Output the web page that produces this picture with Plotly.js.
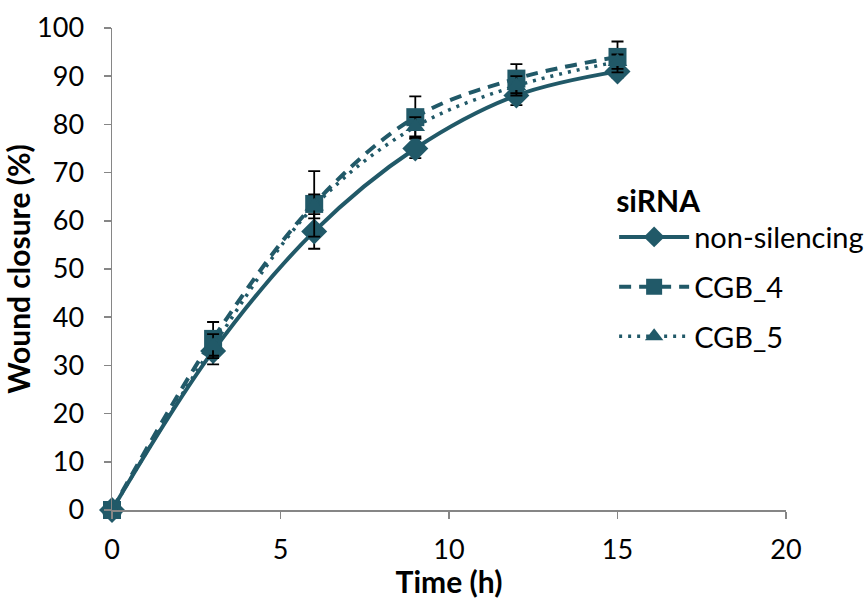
<!DOCTYPE html>
<html>
<head>
<meta charset="utf-8">
<script src="https://cdn.plot.ly/plotly-3.0.1.min.js"></script>
<style>html,body{margin:0;padding:0;background:#fff;}#chart{width:867px;height:599px;}</style>
</head>
<body>
<div id="chart"></div>
<script>
const timeH = [0, 3, 6, 9, 12, 15];
const nonSilencing = [0, 33, 57.8, 75, 86, 91];
const nonSilencingErr = [0, 2.8, 3.6, 2.0, 2.0, 1.3];
const cgb4 = [0, 35.5, 63.5, 81.5, 89.5, 94];
const cgb4Err = [0, 3.5, 6.8, 4.3, 3.0, 3.2];
const cgb5 = [0, 34, 63, 79.5, 88, 93];
const cgb5Err = [0, 2.5, 2.5, 2.0, 2.0, 1.5];
const seriesNames = ['non-silencing', 'CGB_4', 'CGB_5'];
const xTicks = [0, 5, 10, 15, 20];
const yTicks = [0, 10, 20, 30, 40, 50, 60, 70, 80, 90, 100];

const teal = '#215968';
const font = 'Lato, "Open Sans", sans-serif';

function errBar(arr) {
  return {type: 'data', array: arr, visible: true, color: '#000', thickness: 1.8, width: 6};
}

const traces = [
  {
    x: timeH, y: nonSilencing, name: seriesNames[0], legendgroup: 'a', type: 'scatter', mode: 'lines+markers',
    line: {color: teal, width: 4, shape: 'spline', smoothing: 1},
    marker: {symbol: 'diamond', size: 20, color: teal},
    error_y: errBar(nonSilencingErr), cliponaxis: false
  },
  {
    x: timeH, y: cgb4, name: seriesNames[1], legendgroup: 'b', type: 'scatter', mode: 'lines+markers',
    line: {color: teal, width: 4, dash: '12px,8px', shape: 'spline', smoothing: 1},
    marker: {symbol: 'square', size: 18, color: teal},
    error_y: errBar(cgb4Err), cliponaxis: false
  },
  {
    x: timeH, y: cgb5, name: seriesNames[2], legendgroup: 'c', type: 'scatter', mode: 'lines+markers',
    line: {color: teal, width: 3.5, dash: '3px,6px', shape: 'spline', smoothing: 1},
    marker: {symbol: 'triangle-up', size: 17, color: teal},
    error_y: errBar(cgb5Err), cliponaxis: false
  }
];

const layout = {
  width: 867, height: 599,
  margin: {l: 112, r: 81, t: 28, b: 89, autoexpand: false},
  paper_bgcolor: '#fff', plot_bgcolor: '#fff',
  font: {family: font, size: 27, color: '#000'},
  showlegend: true,
  legend: {
    x: 0.745, y: 0.70, xanchor: 'left', yanchor: 'top',
    bgcolor: 'rgba(0,0,0,0)',
    title: {text: '<b>siRNA</b>', font: {family: font, size: 30, color: '#000'}},
    font: {family: font, size: 29, color: '#000'},
    itemwidth: 70, traceorder: 'grouped', tracegroupgap: 9
  },
  xaxis: {
    range: [0, 20], tickvals: xTicks, ticktext: xTicks.map(String),
    showgrid: false, zeroline: false, showline: true, linecolor: '#868686', linewidth: 1.5,
    ticks: 'outside', ticklen: 7, tickcolor: '#868686', tickwidth: 1.5,
    ticklabelstandoff: 8, automargin: false,
    tickfont: {family: font, size: 27, color: '#000'},
    title: {text: '<b>Time (h)</b>', font: {family: font, size: 30, color: '#000'}, standoff: 0}
  },
  yaxis: {
    range: [0, 100], tickvals: yTicks, ticktext: yTicks.map(String),
    showgrid: false, zeroline: false, showline: true, linecolor: '#868686', linewidth: 1.5,
    ticks: 'outside', ticklen: 7, tickcolor: '#868686', tickwidth: 1.5,
    ticklabelstandoff: 14, automargin: false,
    tickfont: {family: font, size: 27, color: '#000'},
    title: {text: '<b>Wound closure (%)</b>', font: {family: font, size: 30, color: '#000'}, standoff: 2}
  }
};

Plotly.newPlot('chart', traces, layout, {displayModeBar: false, staticPlot: true});
</script>
</body>
</html>
